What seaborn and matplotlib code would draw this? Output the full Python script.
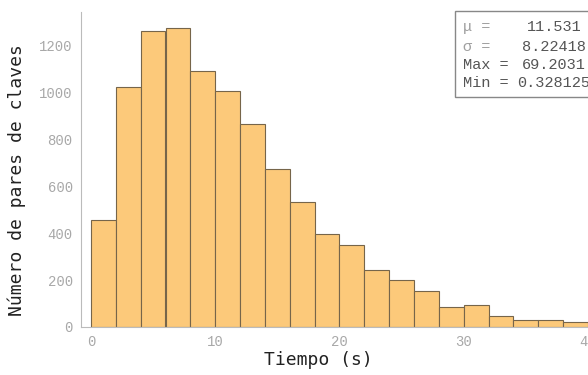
import numpy as np
import pandas as pd
import matplotlib
matplotlib.use("Agg")
import matplotlib.pyplot as plt
from matplotlib.patches import Rectangle
import seaborn as sns

# histogram bins (s) and counts
bin_edges = list(range(0, 42, 2))
counts = [459, 1023, 1265, 1276, 1093, 1006, 867, 673, 534, 399,
          348, 242, 200, 153, 86, 94, 49, 32, 29, 21]
stat_names = ["\u03bc =", "\u03c3 =", "Max =", "Min ="]
stat_values = ["11.531", "8.22418", "69.2031", "0.328125"]
stat_colors = ["#a0a0a0", "#a0a0a0", "#555555", "#555555"]

sns.set_style("white")
plt.rcParams['font.family'] = ['DejaVu Sans Mono', 'DejaVu Sans']

df = pd.DataFrame({
    "t": [b + 1 for b in bin_edges[:-1]],
    "n": counts,
})

W, H = 588, 375
fig = plt.figure(figsize=(W / 100, H / 100), dpi=100)
ax = fig.add_axes([81 / W, 48 / H, 1 - 81 / W, (327 - 12) / H])

sns.histplot(data=df, x="t", weights="n", bins=bin_edges, ax=ax,
             color="#fcc97a", alpha=1, edgecolor="#76654a", linewidth=0.8)

ax.set_xlim(-0.8, 40)
ax.set_ylim(0, 1345)
ax.set_xticks([0, 10, 20, 30, 40])
ax.set_yticks(range(0, 1400, 200))
ax.set_xticks(np.arange(0, 41, 2), minor=True)
ax.set_yticks(range(0, 1345, 50), minor=True)

for s in ["top", "right"]:
    ax.spines[s].set_visible(False)
for s in ["left", "bottom"]:
    ax.spines[s].set_color("#bbbbbb")
    ax.spines[s].set_linewidth(0.8)

ax.tick_params(which="major", direction="in", length=4, color="#bbbbbb",
               labelcolor="#a8a8a8", labelsize=10, pad=6)
ax.tick_params(which="minor", direction="in", length=2, color="#cccccc")
for lab in ax.get_xticklabels() + ax.get_yticklabels():
    lab.set_family("Liberation Mono")

ax.set_xlabel("Tiempo (s)", fontsize=13, color="#222222")
ax.set_ylabel("Número de pares de claves", fontsize=13, color="#222222")
ax.xaxis.set_label_coords((318 - 81) / (W - 81), -(351 - 327) / 315)
ax.yaxis.set_label_coords(-(81 - 26) / (W - 81), (327 - 180) / 315)

# stats box
fig.patches.append(Rectangle((455 / W, 1 - 97 / H), 140 / W, 86 / H,
                             transform=fig.transFigure, facecolor="white",
                             edgecolor="#888888", linewidth=1, zorder=5))
row_y = [27, 47, 65, 83]
for name, val, col, y in zip(stat_names, stat_values, stat_colors, row_y):
    fig.text(463 / W, 1 - y / H, name, family="Liberation Mono", fontsize=11,
             color=col, va="center", ha="left", zorder=6)
    fig.text(554 / W, 1 - y / H, val, family="Liberation Mono", fontsize=11,
             color="#555555", va="center", ha="center", zorder=6)

fig.savefig("out.png", dpi=100)
